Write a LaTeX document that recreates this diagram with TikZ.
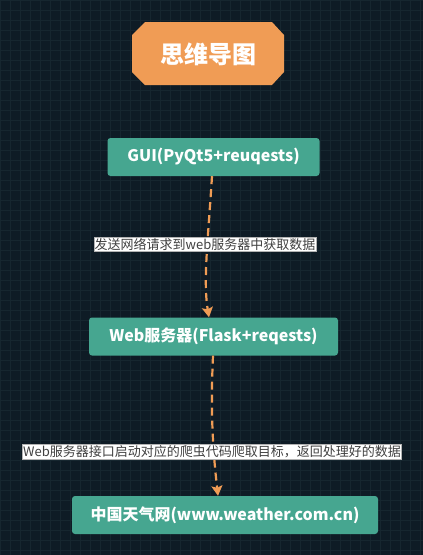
\documentclass[tikz,border=0pt]{standalone}
\usepackage{fontspec}
\newfontfamily\cjk{Noto Sans CJK SC}
\usetikzlibrary{arrows.meta}
\definecolor{bgc}{HTML}{0E1B25}
\definecolor{gridc}{HTML}{16262F}
\definecolor{teal}{HTML}{46A690}
\definecolor{orng}{HTML}{F09C55}
\definecolor{lbl}{HTML}{404040}
\tikzset{
  box/.style={fill=teal, rounded corners=3pt, text=white, font=\cjk\bfseries\fontsize{16}{18}\selectfont, minimum height=38pt, inner sep=0pt},
  lab/.style={fill=white, text=lbl, font=\cjk\fontsize{13}{15}\selectfont, inner xsep=0.5pt, inner ysep=1.2pt, draw=gray!60, line width=0.4pt},
  conn/.style={draw=orng, line width=2.2pt, dash pattern=on 8pt off 5pt, -{Stealth[length=10pt,width=11pt,inset=2pt]}}
}
\begin{document}
\begin{tikzpicture}[x=1pt,y=-1pt]
\useasboundingbox (0,0) rectangle (423,555);
\fill[bgc] (0,0) rectangle (423,555);
\draw[gridc, line width=0.5pt] (0,0) grid[step=10pt] (423,555);
% title
\fill[orng] (145,22) -- (272,22) -- (284,35) -- (284,72) -- (272,85) -- (145,85) -- (132,72) -- (132,35) -- cycle;
\node[text=white, font=\cjk\bfseries\fontsize{24}{27}\selectfont] (title) at (208,54) {思维导图};
% boxes
\node[box, minimum width=212pt] (gui) at (213.5,157) {GUI(PyQt5+reuqests)};
\node[box, minimum width=249pt] (web) at (213.5,336.5) {Web服务器(Flask+reqests)};
\node[box, minimum width=306pt] (cn) at (225,515) {中国天气网(www.weather.com.cn)};
% connectors
\draw[conn] ([xshift=-1.5pt]gui.south) .. controls +(-4,64) and +(-6,-36) .. ([xshift=-4.5pt]web.north);
\draw[conn] ([xshift=-0.5pt]web.south) .. controls +(-3,65) and +(-4,-36) .. ([xshift=-7pt]cn.north);
% labels
\node[lab] (l1) at (205,244) {发送网络请求到web服务器中获取数据};
\node[lab] (l2) at (212,452) {Web服务器接口启动对应的爬虫代码爬取目标，返回处理好的数据};
\end{tikzpicture}
\end{document}
